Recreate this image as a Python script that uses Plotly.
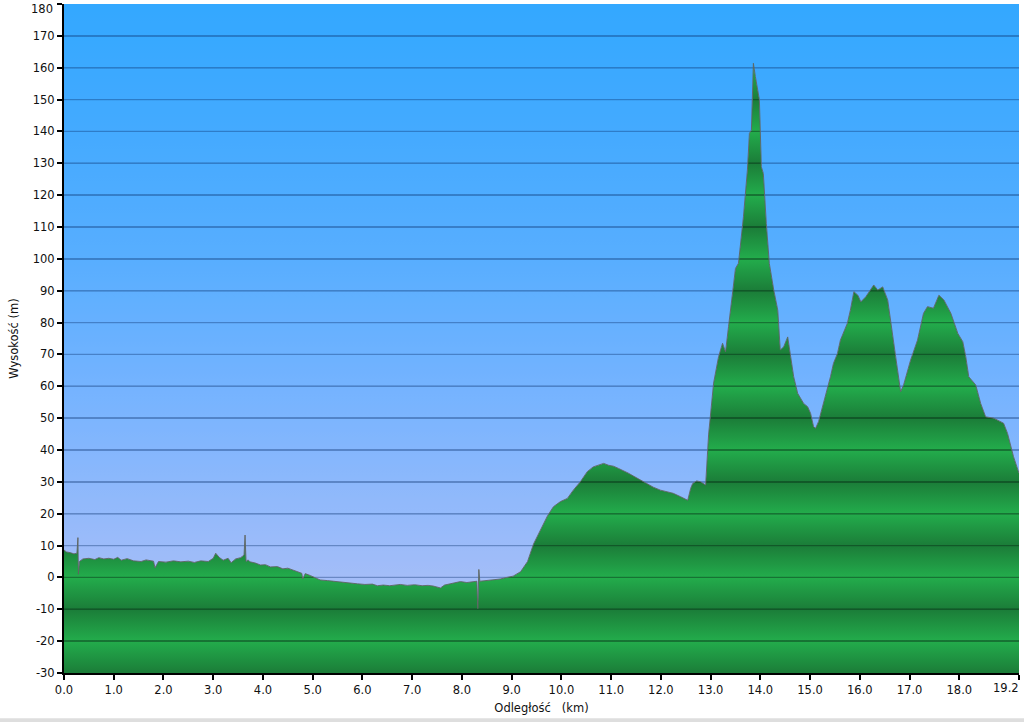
import plotly.graph_objects as go

# ---------------- data ----------------
dist_km = [
    0.00, 0.05, 0.12, 0.20, 0.26, 0.28, 0.29, 0.31, 0.38, 0.50, 0.62, 0.70, 0.80, 0.90,
    1.00, 1.08, 1.15, 1.27, 1.40, 1.55, 1.65, 1.80, 1.83, 1.90, 2.05, 2.20, 2.35, 2.50,
    2.62, 2.75, 2.90, 3.00, 3.05, 3.12, 3.20, 3.30, 3.36, 3.45, 3.55, 3.62, 3.64, 3.66,
    3.70, 3.74, 3.85, 3.95, 4.05, 4.15, 4.29, 4.40, 4.50, 4.60, 4.70, 4.78, 4.80, 4.85,
    4.95, 5.05, 5.15, 5.30, 5.45, 5.60, 5.75, 5.90, 6.05, 6.20, 6.30, 6.42, 6.55, 6.65,
    6.76, 6.90, 7.05, 7.20, 7.32, 7.42, 7.50, 7.57, 7.65, 7.75, 7.85, 7.97, 8.10, 8.20,
    8.30, 8.32, 8.34, 8.36, 8.50, 8.60, 8.77, 8.90, 9.03, 9.18, 9.32, 9.44, 9.58, 9.72,
    9.84, 9.98, 10.12, 10.24, 10.38, 10.52, 10.64, 10.75, 10.85, 10.95, 11.05, 11.15,
    11.25, 11.35, 11.45, 11.60, 11.73, 11.85, 11.99, 12.12, 12.25, 12.40, 12.54, 12.60,
    12.64, 12.72, 12.80, 12.90, 12.96, 13.06, 13.16, 13.24, 13.30, 13.36, 13.44, 13.50,
    13.56, 13.60, 13.66, 13.74, 13.78, 13.82, 13.84, 13.86, 13.90, 13.94, 13.98, 14.02,
    14.06, 14.12, 14.18, 14.27, 14.35, 14.40, 14.47, 14.55, 14.61, 14.67, 14.75, 14.81,
    14.87, 14.95, 15.01, 15.07, 15.11, 15.17, 15.27, 15.41, 15.47, 15.55, 15.61, 15.75,
    15.81, 15.88, 15.96, 16.02, 16.12, 16.22, 16.28, 16.36, 16.46, 16.56, 16.62, 16.68,
    16.76, 16.82, 16.88, 17.02, 17.16, 17.28, 17.36, 17.48, 17.59, 17.69, 17.83, 17.97,
    18.07, 18.13, 18.19, 18.33, 18.43, 18.53, 18.69, 18.89, 18.97, 19.09, 19.20,
]
elev_m = [
    8.6, 8.0, 7.8, 7.4, 7.6, 12.5, 1.0, 5.0, 5.8, 6.0, 5.6, 6.2, 5.8, 6.0,
    5.7, 6.3, 5.4, 5.9, 5.2, 5.0, 5.5, 5.1, 3.0, 5.0, 4.8, 5.2, 4.9, 5.1,
    4.7, 5.2, 5.0, 6.0, 7.6, 6.3, 5.4, 6.0, 4.6, 5.8, 6.2, 7.0, 13.3, 5.0,
    5.5, 4.9, 4.5, 3.9, 4.0, 3.3, 3.4, 2.7, 2.9, 2.3, 1.8, 1.3, -0.5, 1.2,
    0.6, -0.2, -0.8, -1.0, -1.3, -1.5, -1.7, -2.0, -2.2, -2.1, -2.6, -2.4, -2.6, -2.3,
    -2.2, -2.5, -2.3, -2.6, -2.5, -2.7, -3.0, -3.3, -2.4, -2.0, -1.6, -1.3, -1.6, -1.3,
    -1.2, -9.8, 2.5, -1.2, -1.0, -0.8, -0.5, 0.0, 0.4, 1.8, 5.0, 10.5, 14.9, 19.3,
    22.2, 23.8, 24.8, 27.4, 30.0, 33.2, 34.7, 35.2, 35.8, 35.2, 34.9, 34.2,
    33.5, 32.7, 31.8, 30.5, 29.5, 28.3, 27.4, 26.9, 26.4, 25.3, 24.2, 28.0,
    29.5, 30.3, 30.0, 29.0, 45.0, 61.0, 69.3, 73.5, 70.8, 78.7, 89.2, 97.0,
    98.6, 103.8, 113.2, 127.9, 139.4, 140.4, 153.0, 161.4, 157.2, 154.0, 150.0, 128.9,
    126.8, 111.1, 98.6, 90.2, 83.9, 71.4, 72.4, 75.5, 69.3, 63.0, 57.8, 56.2,
    54.6, 53.6, 51.5, 47.3, 46.8, 48.9, 54.6, 63.0, 67.2, 70.3, 74.5, 79.8,
    83.9, 89.7, 88.6, 86.5, 88.1, 90.2, 91.8, 90.2, 91.2, 87.1, 80.8, 74.5,
    66.1, 58.3, 60.4, 68.2, 74.5, 82.9, 85.0, 84.5, 88.6, 87.1, 82.9, 76.6,
    74.0, 69.3, 63.0, 60.4, 54.6, 50.4, 50.0, 48.4, 45.2, 37.9, 32.7,
]

y_tickvals = list(range(-30, 181, 10))
y_ticktext = [str(v) for v in y_tickvals]
x_tickvals = [0, 1, 2, 3, 4, 5, 6, 7, 8, 9, 10, 11, 12, 13, 14, 15, 16, 17, 18, 19.2]
x_ticktext = ["0.0", "1.0", "2.0", "3.0", "4.0", "5.0", "6.0", "7.0", "8.0", "9.0",
              "10.0", "11.0", "12.0", "13.0", "14.0", "15.0", "16.0", "17.0", "18.0", "19.2"]

Y_MIN, Y_MAX = -30, 180
X_MIN, X_MAX = 0, 19.2

# ---------------- styling helpers ----------------
def hex2rgb(h):
    h = h.lstrip("#")
    return tuple(int(h[i:i + 2], 16) for i in (0, 2, 4))

def mix(c1, c2, t):
    return tuple(c1[i] + (c2[i] - c1[i]) * t for i in range(3))

def css(c):
    return "rgb(%d,%d,%d)" % tuple(int(round(v)) for v in c)

def norm(v):
    return (v - Y_MIN) / (Y_MAX - Y_MIN)

GREEN_LIGHT = hex2rgb("#23ad4c")
GREEN_DARK = hex2rgb("#1b7c38")

def ground_base(v):
    # bands with a 20 m period: dark at odd tens, light at even tens
    ph = ((v - (-30)) % 20) / 10.0
    t = ph if ph <= 1 else 2 - ph
    return mix(GREEN_DARK, GREEN_LIGHT, t)

SKY_ANCHORS = [(-30, "#b6c6f2"), (0, "#a3bdf8"), (30, "#8cb8fc"), (60, "#74b3ff"),
               (100, "#58aeff"), (140, "#44aaff"), (180, "#33a8ff")]

def sky_base(v):
    for (v0, c0), (v1, c1) in zip(SKY_ANCHORS[:-1], SKY_ANCHORS[1:]):
        if v0 <= v <= v1:
            return mix(hex2rgb(c0), hex2rgb(c1), (v - v0) / (v1 - v0))
    return hex2rgb(SKY_ANCHORS[-1][1])

def build_scale(base_fn, line_fn, step=2.0):
    levels = set()
    v = Y_MIN
    while v <= Y_MAX + 1e-9:
        levels.add(round(v, 3))
        v += step
    grid = [g for g in y_tickvals if Y_MIN < g < Y_MAX]
    stops = []
    for lv in sorted(levels):
        if any(abs(lv - g) < 0.5 for g in grid):
            continue
        stops.append((lv, css(base_fn(lv))))
    for g in grid:
        stops.append((g - 0.32, css(base_fn(g - 0.32))))
        stops.append((g - 0.2, css(line_fn(base_fn(g)))))
        stops.append((g + 0.2, css(line_fn(base_fn(g)))))
        stops.append((g + 0.32, css(base_fn(g + 0.32))))
    stops.sort(key=lambda s: s[0])
    return [[norm(a), c] for a, c in stops]

ground_scale = build_scale(ground_base, lambda c: mix(c, (5, 45, 20), 0.45))
sky_scale = build_scale(sky_base, lambda c: mix(c, (10, 50, 110), 0.38))

# ---------------- figure ----------------
fig = go.Figure()

fig.add_trace(go.Scatter(
    x=dist_km, y=[Y_MIN] * len(dist_km), mode="lines",
    line=dict(width=0), hoverinfo="skip", showlegend=False))

fig.add_trace(go.Scatter(
    x=dist_km, y=elev_m, mode="lines", fill="tonexty",
    fillgradient=dict(type="vertical", colorscale=ground_scale, start=Y_MIN, stop=Y_MAX),
    line=dict(color="rgba(95,100,95,0.9)", width=1),
    hoverinfo="skip", showlegend=False))

fig.add_trace(go.Scatter(
    x=dist_km, y=[Y_MAX] * len(dist_km), mode="lines", fill="tonexty",
    fillgradient=dict(type="vertical", colorscale=sky_scale, start=Y_MIN, stop=Y_MAX),
    line=dict(width=0), hoverinfo="skip", showlegend=False))

axis_font = dict(family="DejaVu Sans, Verdana, sans-serif", size=11.5, color="#111111")

# the edge labels are kept inside the page, as in the reference
x_ticktext_shown = x_ticktext[:-1] + [""]
y_ticktext_shown = y_ticktext[:-1] + [""]

fig.add_annotation(
    xref="paper", yref="y", x=0, y=Y_MAX, text=y_ticktext[-1],
    showarrow=False, xanchor="right", yanchor="middle", xshift=-9, yshift=-5,
    font=axis_font)
fig.add_annotation(
    xref="x", yref="paper", x=x_tickvals[-1], y=0, text=x_ticktext[-1],
    showarrow=False, xanchor="right", yanchor="top", xshift=2, yshift=-6,
    font=axis_font)

# thin light-grey strip along the bottom edge of the picture
fig.add_shape(type="rect", xref="paper", yref="paper", x0=-0.1, x1=1.1,
              y0=-0.0675, y1=-0.08, line=dict(width=0), fillcolor="#dedede", layer="below")

fig.update_layout(
    width=1024, height=722,
    margin=dict(l=64, r=5, t=4, b=49),
    paper_bgcolor="white", plot_bgcolor="#6ab3ff",
    showlegend=False,
    font=axis_font,
    xaxis=dict(
        range=[X_MIN, X_MAX], tickmode="array", tickvals=x_tickvals, ticktext=x_ticktext_shown,
        showgrid=False, zeroline=False, showline=True, linecolor="black", linewidth=2,
        ticks="outside", ticklen=5, tickwidth=2, tickcolor="black",
        tickfont=axis_font, automargin=False, ticklabeloverflow="allow",
        title=dict(text="Odległość \u00a0 (km)", font=axis_font, standoff=8),
    ),
    yaxis=dict(
        range=[Y_MIN, Y_MAX], tickmode="array", tickvals=y_tickvals, ticktext=y_ticktext_shown,
        showgrid=False, zeroline=False, showline=True, linecolor="black", linewidth=2,
        ticks="outside", ticklen=5, tickwidth=2, tickcolor="black",
        tickfont=axis_font, automargin=False, ticklabeloverflow="allow",
        title=dict(text="Wysokość (m)", font=axis_font, standoff=12),
    ),
)

fig.write_html("out.html", config={"displayModeBar": False},
               post_script="document.body.style.margin='0';")
